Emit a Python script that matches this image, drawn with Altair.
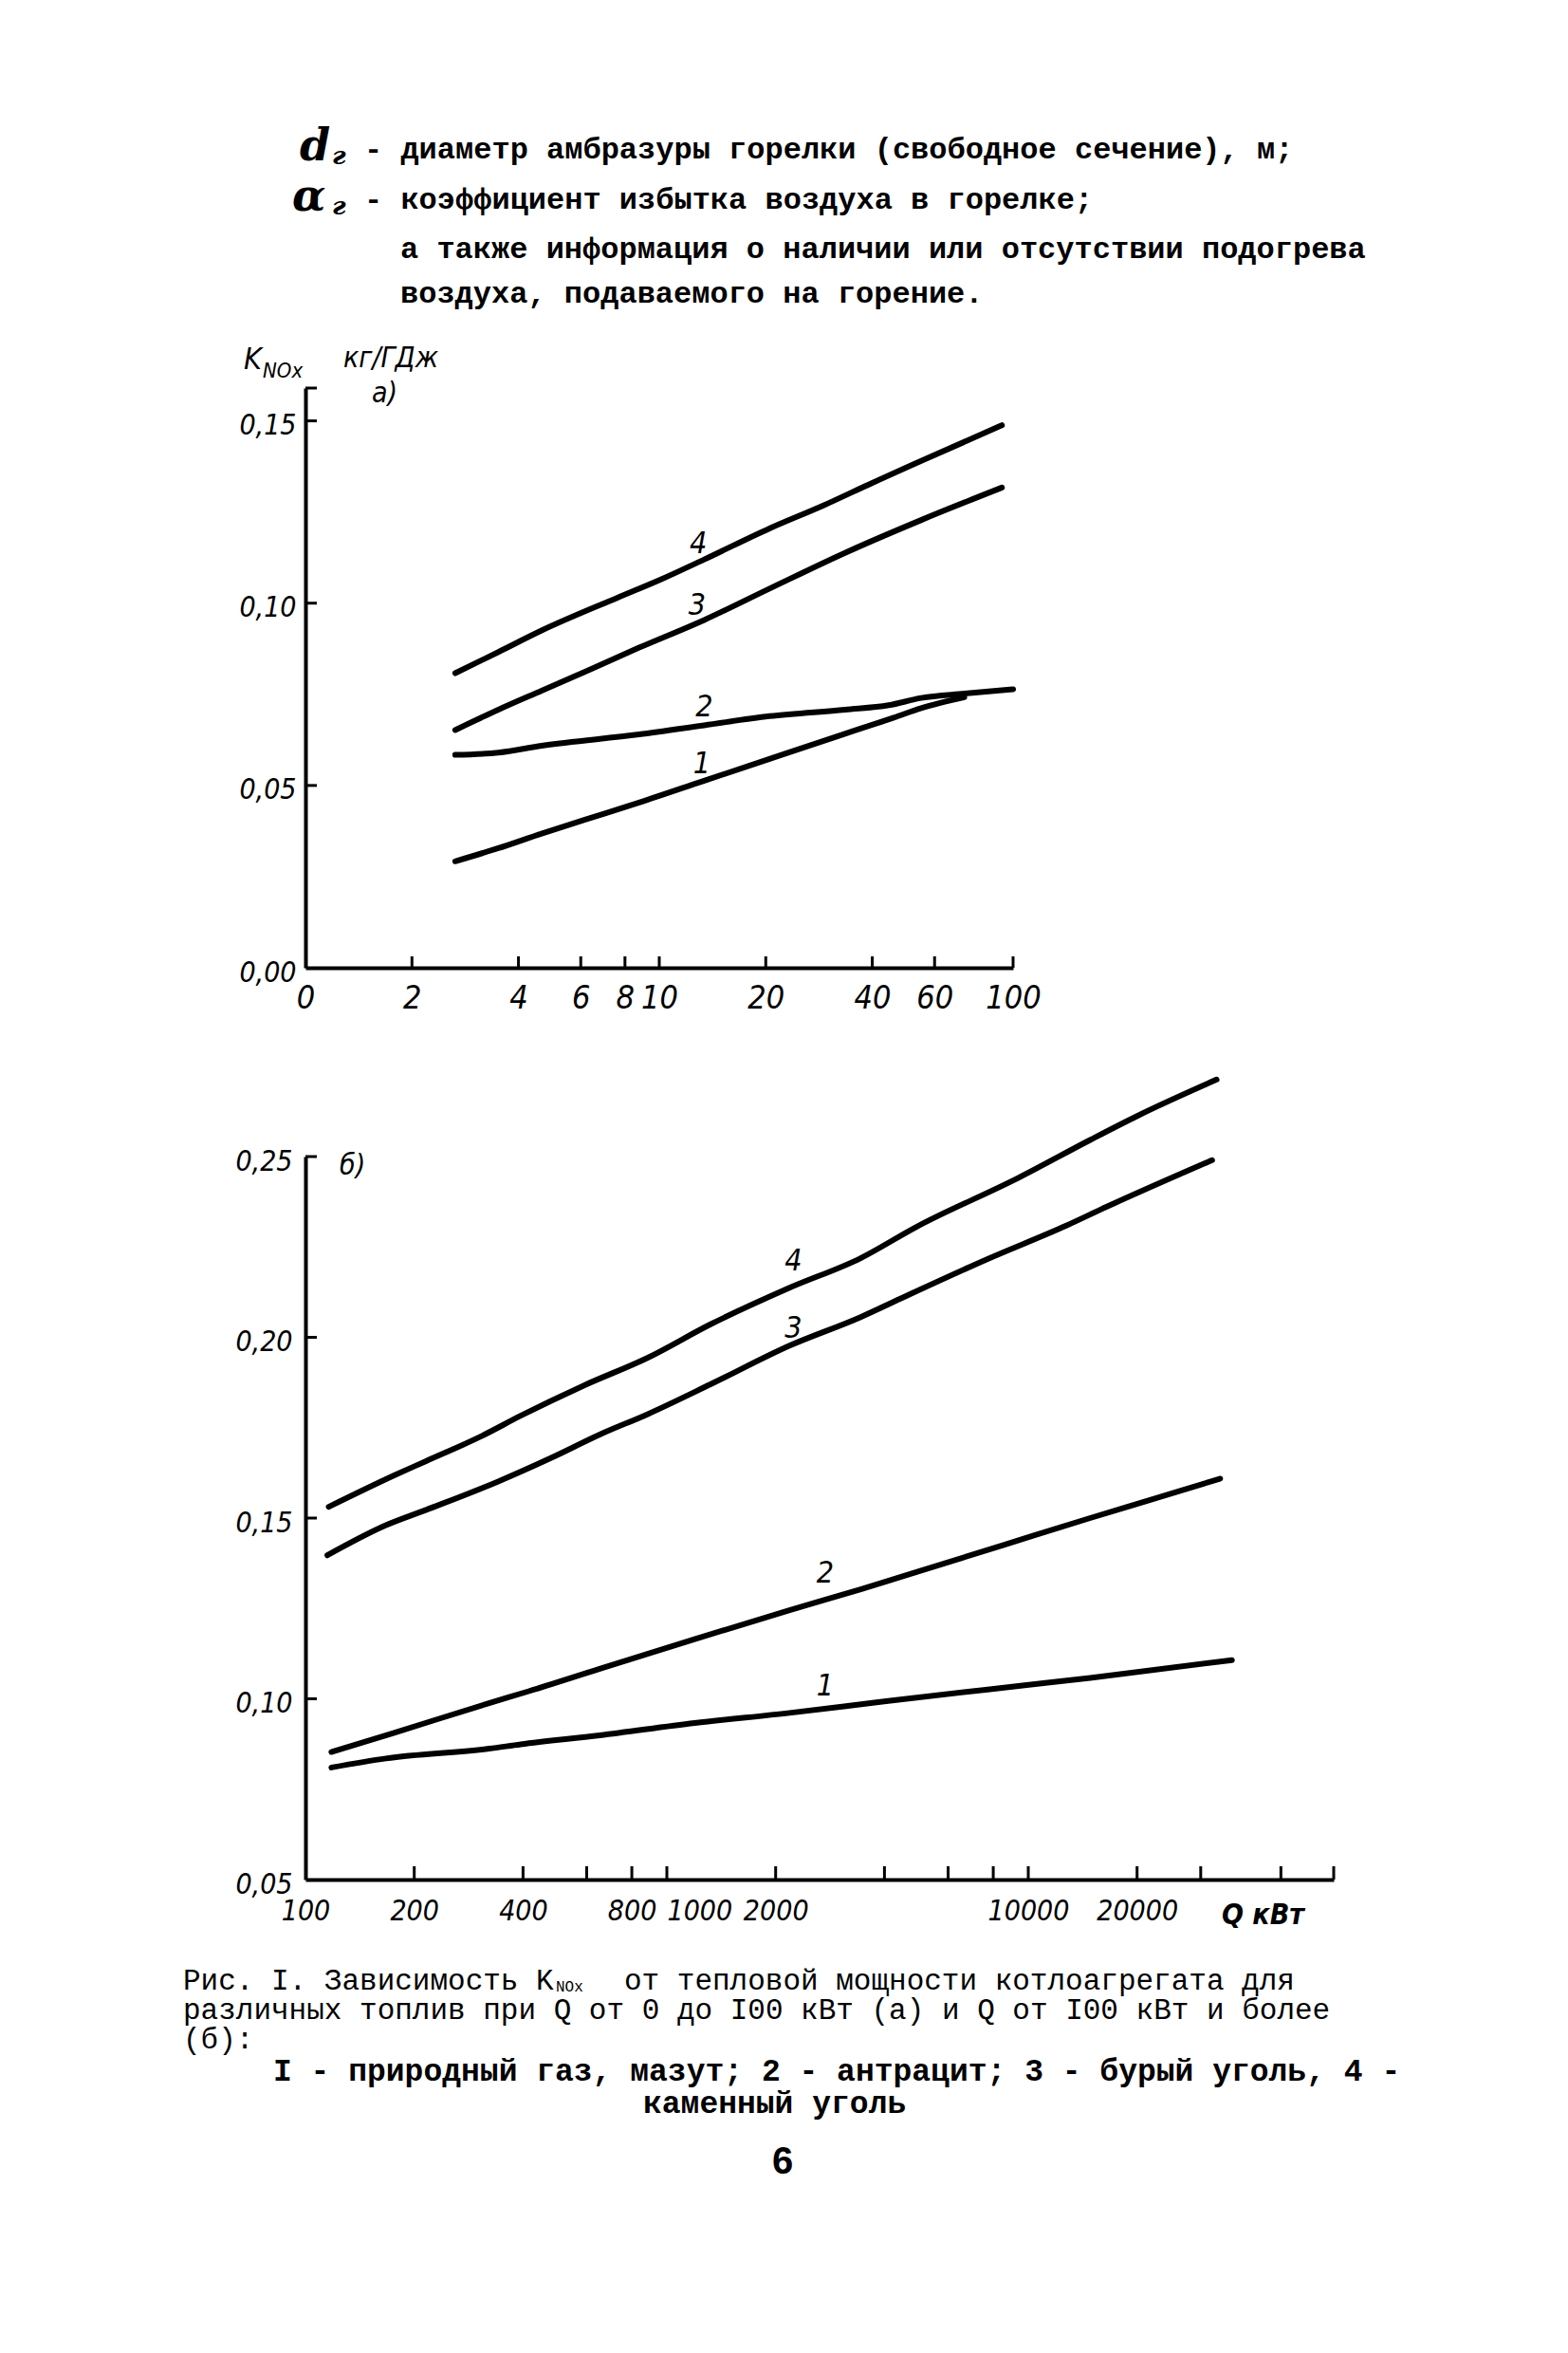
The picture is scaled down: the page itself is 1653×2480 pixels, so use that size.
import altair as alt
import pandas as pd

# ---------------- data: panel а) (Q from 0 to 100 kW) ----------------
a_curve_ids = ["1", "2", "3", "4"]
a1_q = [2.65, 3.51, 4.65, 6.17, 8.77, 13.4, 20.5, 33.5, 46.0, 55.0, 72.8]
a1_k = [0.0292, 0.0328, 0.0368, 0.0406, 0.0453, 0.0513, 0.0573, 0.0642, 0.0686, 0.0712, 0.0742]
a2_q = [2.65, 3.51, 4.65, 8.77, 13.4, 20.5, 33.5, 44.5, 55.0, 72.8, 100.0]
a2_k = [0.0584, 0.0590, 0.0609, 0.0640, 0.0665, 0.0690, 0.0708, 0.0720, 0.0740, 0.0752, 0.0764]
a3_q = [2.65, 3.51, 4.65, 6.17, 8.77, 13.4, 20.5, 33.5, 55.0, 93.0]
a3_k = [0.0652, 0.0708, 0.0760, 0.0812, 0.0878, 0.0954, 0.1040, 0.1138, 0.1228, 0.1317]
a4_q = [2.65, 3.51, 4.65, 7.62, 10.1, 13.4, 20.5, 29.1, 40.0, 55.0, 93.0]
a4_k = [0.0808, 0.0866, 0.0925, 0.1015, 0.1065, 0.1120, 0.1205, 0.1268, 0.1330, 0.1390, 0.1488]

a_label_q = [13.2, 13.4, 12.8, 12.9]
a_label_k = [0.0559, 0.0715, 0.0994, 0.1162]

a_tick_q = [2, 4, 6, 8, 10, 20, 40, 60, 100]
a_label_vals_q = [1, 2, 4, 6, 8, 10, 20, 40, 60, 100]
a_tick_k = [0.05, 0.10, 0.15, 0.159]
a_label_vals_k = [0.0, 0.05, 0.10, 0.15]

# ---------------- data: panel б) (Q from 100 kW) ----------------
b_curve_ids = ["1", "2", "3", "4"]
b1_q = [118, 167, 322, 394, 652, 1194, 2185, 3800, 4428, 9900, 14830, 36600]
b1_k = [0.0810, 0.0835, 0.0862, 0.0874, 0.0899, 0.0933, 0.0961, 0.0990, 0.0998, 0.1038, 0.1058, 0.1107]
b2_q = [118, 176, 322, 415, 652, 1194, 2185, 3437, 4428, 8510, 14830, 20080, 33960]
b2_k = [0.0853, 0.0906, 0.0988, 0.1021, 0.1083, 0.1165, 0.1245, 0.1303, 0.1337, 0.1425, 0.1500, 0.1540, 0.1609]
b3_q = [115, 167, 215, 339, 482, 652, 883, 1321, 2185, 3437, 4428, 7690, 12740, 16390, 32250]
b3_k = [0.1397, 0.1480, 0.1522, 0.1600, 0.1668, 0.1731, 0.1787, 0.1870, 0.1977, 0.2056, 0.2107, 0.2216, 0.2309, 0.2360, 0.2490]
b4_q = [116, 176, 215, 306, 394, 590, 883, 1321, 2185, 3437, 4891, 9425, 14830, 20080, 33200]
b4_k = [0.1531, 0.1618, 0.1657, 0.1726, 0.1783, 0.1867, 0.1943, 0.2036, 0.2137, 0.2219, 0.2305, 0.2442, 0.2546, 0.2613, 0.2713]

b_label_q = [2740, 2740, 2240, 2240]
b_label_k = [0.1036, 0.1348, 0.2025, 0.2211]

b_tick_q = [200, 400, 600, 800, 1000, 2000, 4000, 6000, 8000, 10000, 20000, 30000, 50000, 70000]
b_label_vals_q = [100, 200, 400, 800, 1000, 2000, 10000, 20000]
b_tick_k = [0.10, 0.15, 0.20, 0.25]
b_label_vals_k = [0.05, 0.10, 0.15, 0.20, 0.25]

# ---------------- texts ----------------
header_sym = ["d", "α"]
header_sub = ["г", "г"]
header_lines = [
    "- диаметр амбразуры горелки (свободное сечение), м;",
    "- коэффициент избытка воздуха в горелке;",
    "а также информация о наличии или отсутствии подогрева",
    "воздуха, подаваемого на горение.",
]
axis_a_title = ["K", "NOx", "кг/ГДж", "а)"]
axis_b_title = ["б)", "Q кВт"]
caption_line1 = ["Рис. I. Зависимость K", "от тепловой мощности котлоагрегата для"]
caption_sub = "NOx"
caption_lines = [
    "различных топлив при Q от 0 до I00 кВт (а) и Q от I00 кВт и более",
    "(б):",
    "I - природный газ, мазут; 2 - антрацит; 3 - бурый уголь, 4 -",
    "каменный уголь",
]
page_number = "6"

# ---------------- styling ----------------
HAND = "DejaVu Sans Condensed, Liberation Sans Narrow, DejaVu Sans"
TYPE = "Liberation Mono, DejaVu Sans Mono, monospace"
WA, HA = 746, 611
WB, HB = 1084, 762
LW = 6
DW = 4


def long_df(ids, qs, ks):
    rows = []
    for c, q, k in zip(ids, qs, ks):
        for qi, ki in zip(q, k):
            rows.append({"curve": c, "Q": qi, "K": ki})
    return pd.DataFrame(rows)


def text_at(txt, x, y, size=32, font=TYPE, weight="bold", style="normal", align="left"):
    return alt.Chart(pd.DataFrame({"t": [txt]})).mark_text(
        font=font, fontSize=size, fontWeight=weight, fontStyle=style,
        align=align, baseline="middle", color="black"
    ).encode(text="t:N", x=alt.value(x), y=alt.value(y))


comma_fmt = "replace(format(datum.value, '.2f'), '.', ',')"

# ================= panel а) =================
A = long_df(a_curve_ids, [a1_q, a2_q, a3_q, a4_q], [a1_k, a2_k, a3_k, a4_k])
xa = alt.Scale(type="log", domain=[1, 100])
ya = alt.Scale(domain=[0, 0.159], nice=False)
xa_axis = alt.Axis(
    values=a_label_vals_q, labelExpr="datum.value == 1 ? '0' : format(datum.value, 'd')",
    ticks=False, grid=False, title=None, labelFont=HAND, labelFontSize=34,
    labelFontStyle="italic", labelPadding=15, labelFlush=False, labelOverlap=False,
    domainColor="black", domainWidth=DW, labelColor="black")
ya_axis = alt.Axis(
    values=a_label_vals_k, labelExpr=comma_fmt, ticks=False, grid=False, title=None,
    labelFont=HAND, labelFontSize=30, labelFontStyle="italic", labelPadding=10,
    labelOffset=5, labelOverlap=False, domainColor="black", domainWidth=DW, labelColor="black")
XA = alt.X("Q:Q", scale=xa, axis=xa_axis)
YA = alt.Y("K:Q", scale=ya, axis=ya_axis)

a_lines = alt.Chart(A).mark_line(color="black", strokeWidth=LW, strokeCap="round",
                                 strokeJoin="round", interpolate="monotone").encode(
    x=XA, y=YA, detail="curve:N")
a_xt = alt.Chart(pd.DataFrame({"Q": a_tick_q})).mark_rule(color="black", strokeWidth=3).encode(
    x=XA, y=alt.value(HA), y2=alt.value(HA - 12))
a_yt = alt.Chart(pd.DataFrame({"K": a_tick_k})).mark_rule(color="black", strokeWidth=3).encode(
    y=YA, x=alt.value(0), x2=alt.value(12))
a_lab = alt.Chart(pd.DataFrame({"Q": a_label_q, "K": a_label_k, "t": a_curve_ids})).mark_text(
    font=HAND, fontSize=32, fontStyle="italic", color="black", baseline="middle").encode(
    x=XA, y=YA, text="t:N")

anchor = alt.Chart(pd.DataFrame({"t": [""]})).mark_rule(opacity=0, strokeWidth=1).encode(
    x=alt.value(-314), x2=alt.value(-313), y=alt.value(-401), y2=alt.value(-400))

a_layers = [
    anchor, a_lines, a_xt, a_yt, a_lab,
    text_at(axis_a_title[0], -65, -30, size=32, font=HAND, weight="normal", style="italic"),
    text_at(axis_a_title[1], -45, -18, size=22, font=HAND, weight="normal", style="italic"),
    text_at(axis_a_title[2], 40, -31, size=30, font=HAND, weight="normal", style="italic"),
    text_at(axis_a_title[3], 70, 6, size=30, font=HAND, weight="normal", style="italic"),
    # header
    text_at(header_sym[0], -6, -254, size=46, font="DejaVu Serif", weight="bold", style="italic"),
    text_at(header_sub[0], 28, -244, size=26, font="DejaVu Serif", weight="bold", style="italic"),
    text_at(header_lines[0], 62, -252),
    text_at(header_sym[1], -14, -201, size=46, font="DejaVu Serif", weight="bold", style="italic"),
    text_at(header_sub[1], 28, -191, size=26, font="DejaVu Serif", weight="bold", style="italic"),
    text_at(header_lines[1], 62, -199),
    text_at(header_lines[2], 100, -147),
    text_at(header_lines[3], 100, -100),
]
chart_a = alt.layer(*a_layers).properties(width=WA, height=HA)

# ================= panel б) =================
B = long_df(b_curve_ids, [b1_q, b2_q, b3_q, b4_q], [b1_k, b2_k, b3_k, b4_k])
xb = alt.Scale(type="log", domain=[100, 70000])
yb = alt.Scale(domain=[0.05, 0.25], nice=False)
xb_axis = alt.Axis(
    values=b_label_vals_q, format="d", ticks=False, grid=False, title=None,
    labelFont=HAND, labelFontSize=30, labelFontStyle="italic", labelPadding=18,
    labelFlush=False, labelOverlap=False,
    labelAlign={"condition": {"test": "datum.value == 1000", "value": "left"}, "value": "center"},
    domainColor="black", domainWidth=DW, labelColor="black")
yb_axis = alt.Axis(
    values=b_label_vals_k, labelExpr=comma_fmt, ticks=False, grid=False, title=None,
    labelFont=HAND, labelFontSize=30, labelFontStyle="italic", labelPadding=14,
    labelOffset=5, labelOverlap=False, domainColor="black", domainWidth=DW, labelColor="black")
XB = alt.X("Q:Q", scale=xb, axis=xb_axis)
YB = alt.Y("K:Q", scale=yb, axis=yb_axis)

b_lines = alt.Chart(B).mark_line(color="black", strokeWidth=LW, strokeCap="round",
                                 strokeJoin="round", interpolate="monotone").encode(
    x=XB, y=YB, detail="curve:N")
b_xt = alt.Chart(pd.DataFrame({"Q": b_tick_q})).mark_rule(color="black", strokeWidth=3).encode(
    x=XB, y=alt.value(HB), y2=alt.value(HB - 14))
b_yt = alt.Chart(pd.DataFrame({"K": b_tick_k})).mark_rule(color="black", strokeWidth=3).encode(
    y=YB, x=alt.value(0), x2=alt.value(12))
b_lab = alt.Chart(pd.DataFrame({"Q": b_label_q, "K": b_label_k, "t": b_curve_ids})).mark_text(
    font=HAND, fontSize=32, fontStyle="italic", color="black", baseline="middle").encode(
    x=XB, y=YB, text="t:N")

b_layers = [
    b_lines, b_xt, b_yt, b_lab,
    text_at(axis_b_title[0], 36, 10, size=30, font=HAND, weight="normal", style="italic"),
    text_at(axis_b_title[1], 966, HB + 38, size=30, font=HAND, weight="bold", style="italic"),
    # caption
    text_at(caption_line1[0], -129, 869, size=31, weight="normal"),
    text_at(caption_sub, 264, 875, size=16, weight="normal"),
    text_at(caption_line1[1], 336, 869, size=31, weight="normal"),
    text_at(caption_lines[0], -129, 900, size=31, weight="normal"),
    text_at(caption_lines[1], -129, 931, size=31, weight="normal"),
    text_at(caption_lines[2], -34, 964, size=33),
    text_at(caption_lines[3], 356, 998, size=33),
    text_at(page_number, 503, 1060, size=40, font="Liberation Sans, DejaVu Sans", align="center"),
]
chart_b = alt.layer(*b_layers).properties(width=WB, height=HB)

chart = alt.vconcat(chart_a, chart_b, spacing=199, bounds="flush").properties(
    padding=0, background="white"
).configure_view(stroke=None)

chart.save("out.html", embed_options={"renderer": "svg", "actions": False})
